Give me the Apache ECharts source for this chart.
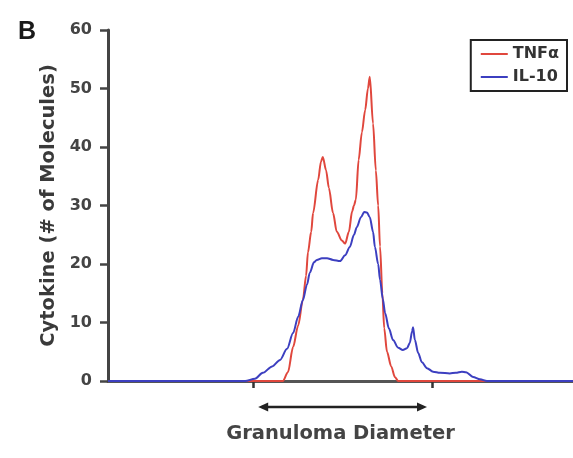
<!DOCTYPE html>
<html>
<head>
<meta charset="utf-8">
<script src="https://cdn.jsdelivr.net/npm/echarts@6/dist/echarts.min.js"></script>
<style>
  html, body { margin: 0; padding: 0; background: #fff; }
  #chart { width: 573px; height: 458px; }
</style>
</head>
<body>
<div id="chart"></div>
<script>
// x = position across the granuloma (arbitrary units, 0-100), y = # of molecules
const tnfX = [0, 34.8, 37.6, 38.7, 39.8, 40.9, 41.9, 42.6, 43.0, 43.7, 44.1, 45.2, 45.8, 46.2, 46.9, 47.5, 48.4, 49.2, 50.3, 51.0,
  51.8, 52.5, 52.9, 53.3, 53.9, 54.6, 55.3, 55.9, 56.3, 57.0, 57.6, 58.1, 58.5, 59.0, 59.4, 60.0, 60.9, 61.7, 62.4, 100];
const tnfY = [0, 0, 0, 1.5, 5.8, 9.5, 13.8, 18, 22, 25.5, 28.7, 34.4, 37.5, 38.3, 36, 33, 28.7, 25.5, 24, 23.5,
  25.5, 29, 30, 31, 37.8, 42.5, 46.3, 50, 52, 44, 36, 30, 23, 15, 9, 5, 2.5, 0.7, 0, 0];

const il10X = [0, 29.5, 31.6, 33.3, 35.3, 37.0, 38.5, 39.8, 40.9, 41.9, 42.8, 43.4, 44.3, 44.9, 46.0, 47.1, 48.4, 49.9, 51.0, 52.0,
  52.9, 53.5, 54.4, 55.1, 55.7, 56.3, 57.0, 57.4, 58.1, 58.5, 59.1, 59.6, 60.4, 61.3, 62.4, 63.4, 64.3, 64.9, 65.4, 65.6,
  66.0, 66.7, 67.5, 68.6, 69.9, 71.4, 73.5, 74.8, 76.1, 77.0, 78.5, 80.0, 81.5, 100];
const il10Y = [0, 0, 0.4, 1.4, 2.5, 3.6, 5.5, 8.2, 11, 13.8, 16.5, 18.5, 20.3, 20.7, 21, 21, 20.7, 20.5, 21.5, 22.9,
  25, 26.3, 28, 28.9, 28.8, 28, 25.5, 22.9, 20, 17.3, 14, 11.6, 9, 7, 5.7, 5.3, 5.6, 6.5, 8.5, 9.2,
  7, 4.8, 3.2, 2.2, 1.6, 1.4, 1.3, 1.4, 1.6, 1.5, 0.7, 0.3, 0, 0];

const seriesNames = ['TNFα', 'IL-10'];
const diameterTicks = [31.2, 69.7];   // edges of the granuloma
const arrowSpan = [32.3, 68.6];

const font = 'DejaVu Sans';
const chart = echarts.init(document.getElementById('chart'));

const toPairs = (xs, ys) => xs.map((x, i) => [x, ys[i]]);

chart.setOption({
  animation: false,
  title: {
    text: 'B', left: 13, top: 15,
    textStyle: { fontFamily: 'Liberation Sans', fontSize: 25, fontWeight: 'bold', color: '#1a1a1a' }
  },
  legend: {
    orient: 'vertical', right: 6, top: 40,
    data: seriesNames,
    icon: 'rect',
    borderColor: '#222', borderWidth: 2, borderRadius: 0,
    padding: [6, 8, 6, 10], itemWidth: 27, itemHeight: 2, itemGap: 7,
    textStyle: { fontFamily: font, fontSize: 16, fontWeight: 'bold', color: '#333' }
  },
  grid: { left: 108, right: 0, top: 30, bottom: 77, outerBoundsMode: 'none' },
  xAxis: {
    type: 'value', min: 0, max: 100,
    name: 'Granuloma Diameter', nameLocation: 'middle', nameGap: 43,
    nameTextStyle: { fontFamily: font, fontSize: 19.5, fontWeight: 'bold', color: '#444' },
    axisLine: { show: true, onZero: false, lineStyle: { color: '#555', width: 3 } },
    axisTick: { show: true, customValues: diameterTicks, length: 7, lineStyle: { color: '#333', width: 2.5 } },
    axisLabel: { show: false },
    splitLine: { show: false }
  },
  yAxis: {
    type: 'value', min: 0, max: 60, interval: 10,
    name: 'Cytokine (# of Molecules)', nameLocation: 'middle', nameGap: 39,
    nameTextStyle: { fontFamily: font, fontSize: 19.5, fontWeight: 'bold', color: '#3a3a3a' },
    axisLine: { show: true, lineStyle: { color: '#444', width: 3 } },
    axisTick: { show: true, length: 8, lineStyle: { color: '#444', width: 2.5 } },
    axisLabel: { margin: 16, fontFamily: font, fontSize: 16, fontWeight: 'bold', color: '#444' },
    splitLine: { show: false }
  },
  series: [
    {
      name: seriesNames[0], type: 'line', data: toPairs(tnfX, tnfY),
      symbol: 'none', smooth: 0.3, smoothMonotone: 'x',
      lineStyle: { color: '#e0473d', width: 2 }, itemStyle: { color: '#e0473d' }
    },
    {
      name: seriesNames[1], type: 'line', data: toPairs(il10X, il10Y),
      symbol: 'none', smooth: 0.3, smoothMonotone: 'x',
      lineStyle: { color: '#3c3fc0', width: 2 }, itemStyle: { color: '#3c3fc0' }
    }
  ]
});

// double-headed arrow under the axis, between the two granuloma edge ticks
const p1 = chart.convertToPixel({ xAxisIndex: 0, yAxisIndex: 0 }, [arrowSpan[0], 0]);
const p2 = chart.convertToPixel({ xAxisIndex: 0, yAxisIndex: 0 }, [arrowSpan[1], 0]);
const ay = p1[1] + 26;
chart.setOption({
  graphic: [
    { type: 'line', shape: { x1: p1[0] + 4, y1: ay, x2: p2[0] - 4, y2: ay }, style: { stroke: '#222', lineWidth: 2.5 } },
    { type: 'polygon', shape: { points: [[p1[0], ay], [p1[0] + 10, ay - 4.5], [p1[0] + 10, ay + 4.5]] }, style: { fill: '#222' } },
    { type: 'polygon', shape: { points: [[p2[0], ay], [p2[0] - 10, ay - 4.5], [p2[0] - 10, ay + 4.5]] }, style: { fill: '#222' } }
  ]
});
</script>
</body>
</html>
